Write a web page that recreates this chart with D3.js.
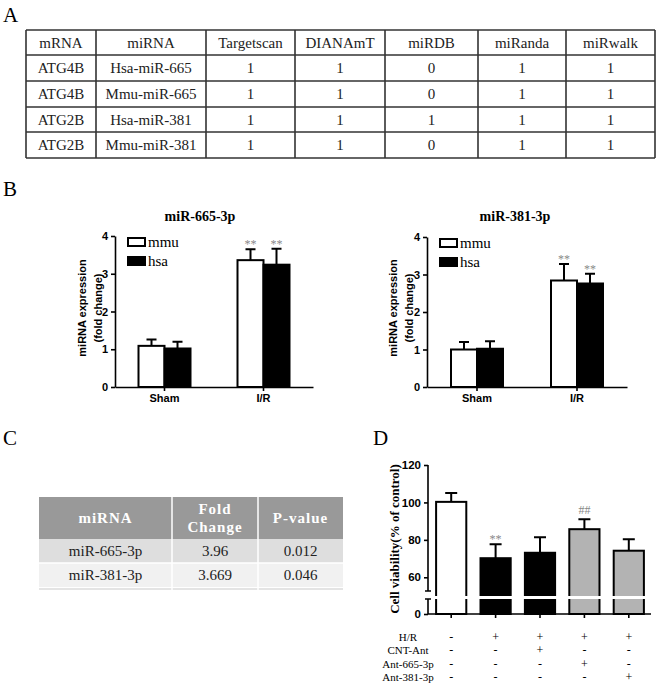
<!DOCTYPE html>
<html>
<head>
<meta charset="utf-8">
<script src="https://cdn.jsdelivr.net/npm/d3@7"></script>
<style>
  body { margin: 0; background: #fff; }
  svg { display: block; }
</style>
</head>
<body>
<script>
// ---- data ----
var tableAHeader = ["mRNA", "miRNA", "Targetscan", "DIANAmT", "miRDB", "miRanda", "miRwalk"];
var tableAMrna  = ["ATG4B", "ATG4B", "ATG2B", "ATG2B"];
var tableAMirna = ["Hsa-miR-665", "Mmu-miR-665", "Hsa-miR-381", "Mmu-miR-381"];
var tableAHits  = [[1, 1, 0, 1, 1], [1, 1, 0, 1, 1], [1, 1, 1, 1, 1], [1, 1, 0, 1, 1]];

var groupsB = ["Sham", "I/R"];
var seriesB = ["mmu", "hsa"];
var m665Mmu = [1.09, 3.36], m665MmuErr = [0.17, 0.29];
var m665Hsa = [1.02, 3.24], m665HsaErr = [0.18, 0.42];
var m381Mmu = [1.00, 2.84], m381MmuErr = [0.20, 0.44];
var m381Hsa = [1.02, 2.76], m381HsaErr = [0.20, 0.26];
var starsB = ["", "**"];
var ticksB = [0, 1, 2, 3, 4];

var tableCHeader = ["miRNA", "Fold\nChange", "P-value"];
var tableCMirna = ["miR-665-3p", "miR-381-3p"];
var tableCFold  = ["3.96", "3.669"];
var tableCP     = ["0.012", "0.046"];

var groupsD = ["ctrl", "hr", "cnt", "a665", "a381"];
var viability = [100.3, 70.2, 73.1, 85.7, 74.2];
var viabilityErr = [4.7, 7.4, 8.3, 5.3, 6.1];
var marksD = ["", "**", "", "##", ""];
var fillD = ["white", "black", "black", "#b3b3b3", "#b3b3b3"];
var ticksD = [0, 60, 80, 100, 120];
var treatNames = ["H/R", "CNT-Ant", "Ant-665-3p", "Ant-381-3p"];
var treatSigns = [
  ["-", "+", "+", "+", "+"],
  ["-", "-", "+", "-", "-"],
  ["-", "-", "-", "+", "-"],
  ["-", "-", "-", "-", "+"]
];

var serif = "'Liberation Serif', 'Times New Roman', serif";
var sans = "'Liberation Sans', Arial, sans-serif";

var svg = d3.select("body").append("svg")
    .attr("width", 660)
    .attr("height", 685);

// panel letters
[["A", 3, 22], ["B", 3, 196], ["C", 3, 445], ["D", 373, 445]].forEach(function(p) {
  svg.append("text").text(p[0])
    .attr("x", p[1]).attr("y", p[2])
    .attr("font-family", serif).attr("font-size", 21);
});

// ---- panel A table ----
var colA = [26, 96, 206, 295, 385, 478, 566, 655];
var rowA = [30, 55, 81, 107, 132, 158];
var tA = svg.append("g");
var rowsA = [tableAHeader].concat(tableAMrna.map(function(m, i) {
  return [m, tableAMirna[i]].concat(tableAHits[i].map(String));
}));
rowsA.forEach(function(r, ri) {
  r.forEach(function(c, ci) {
    tA.append("text").text(c)
      .attr("x", (colA[ci] + colA[ci + 1]) / 2)
      .attr("y", (rowA[ri] + rowA[ri + 1]) / 2 + 5)
      .attr("text-anchor", "middle")
      .attr("font-family", serif).attr("font-size", 15)
      .attr("fill", "#222");
  });
});
colA.forEach(function(x) {
  tA.append("line").attr("x1", x).attr("x2", x).attr("y1", rowA[0]).attr("y2", rowA[5])
    .attr("stroke", "#333").attr("stroke-width", 1.6);
});
rowA.forEach(function(y) {
  tA.append("line").attr("x1", colA[0]).attr("x2", colA[7]).attr("y1", y).attr("y2", y)
    .attr("stroke", "#333").attr("stroke-width", 1.6);
});

// ---- panel B bar charts ----
function chartB(opt) {
  var g = svg.append("g");
  var x0 = d3.scaleBand().domain(groupsB).range([opt.left, opt.right]);
  var x1 = d3.scaleBand().domain(seriesB).range([-26, 26]);
  var y = d3.scaleLinear().domain([0, 4]).range([opt.bottom, opt.top]);

  var bars = [];
  groupsB.forEach(function(gr, i) {
    seriesB.forEach(function(s) {
      bars.push({g: gr, s: s, v: opt.vals[s][i], e: opt.errs[s][i], star: starsB[i]});
    });
  });
  var cx = function(d) { return x0(d.g) + x0.bandwidth() / 2 + x1(d.s); };

  // error bars
  g.selectAll(".err").data(bars).join("path")
    .attr("d", function(d) {
      var m = cx(d) + x1.bandwidth() / 2, t = y(d.v + d.e);
      return "M" + m + "," + y(d.v) + "V" + t + "M" + (m - 5) + "," + t + "H" + (m + 5);
    })
    .attr("stroke", "black").attr("stroke-width", 2).attr("fill", "none");

  g.selectAll(".bar").data(bars).join("rect")
    .attr("x", cx)
    .attr("y", function(d) { return y(d.v); })
    .attr("width", x1.bandwidth())
    .attr("height", function(d) { return y(0) - y(d.v); })
    .attr("fill", function(d) { return d.s == "mmu" ? "white" : "black"; })
    .attr("stroke", "black").attr("stroke-width", 2);

  g.selectAll(".star").data(bars.filter(function(d) { return d.star; })).join("text")
    .text(function(d) { return d.star; })
    .attr("x", function(d) { return cx(d) + x1.bandwidth() / 2; })
    .attr("y", function(d) { return y(d.v + d.e) - 1; })
    .attr("text-anchor", "middle")
    .attr("font-family", serif).attr("font-size", 12).attr("fill", "#888");

  var yAx = g.append("g").attr("transform", "translate(" + opt.left + ",0)")
    .call(d3.axisLeft(y).tickValues(ticksB).tickFormat(d3.format("d"))
      .tickSize(4).tickSizeOuter(0).tickPadding(3));
  var xAx = g.append("g").attr("transform", "translate(0," + opt.bottom + ")")
    .call(d3.axisBottom(x0).tickSize(4).tickSizeOuter(0).tickPadding(3));
  [yAx, xAx].forEach(function(a) {
    a.selectAll("path, line").attr("stroke", "black").attr("stroke-width", 1.6);
    a.selectAll("text").attr("font-family", sans).attr("font-weight", "bold")
      .attr("font-size", 11).attr("fill", "black");
  });

  g.append("text").text(opt.title)
    .attr("x", opt.titleX).attr("y", 221)
    .attr("text-anchor", "middle")
    .attr("font-family", serif).attr("font-weight", "bold").attr("font-size", 14);

  ["miRNA expression", "(fold change)"].forEach(function(t, i) {
    g.append("text").text(t)
      .attr("transform", "translate(" + (opt.labelX + i * 16) + ",308) rotate(-90)")
      .attr("text-anchor", "middle")
      .attr("font-family", sans).attr("font-weight", "bold").attr("font-size", 11);
  });

  // legend
  seriesB.forEach(function(s, i) {
    var ly = opt.top + 2 + i * 19;
    g.append("rect").attr("x", opt.left + 13).attr("y", ly)
      .attr("width", 17).attr("height", 8)
      .attr("fill", s == "mmu" ? "white" : "black")
      .attr("stroke", "black").attr("stroke-width", 2);
    g.append("text").text(s)
      .attr("x", opt.left + 33).attr("y", ly + 9)
      .attr("font-family", serif).attr("font-size", 15);
  });
}

chartB({left: 115, right: 313, top: 236, bottom: 387, titleX: 200, labelX: 86,
  title: "miR-665-3p",
  vals: {mmu: m665Mmu, hsa: m665Hsa}, errs: {mmu: m665MmuErr, hsa: m665HsaErr}});
chartB({left: 427, right: 627, top: 237, bottom: 387, titleX: 515, labelX: 397,
  title: "miR-381-3p",
  vals: {mmu: m381Mmu, hsa: m381Hsa}, errs: {mmu: m381MmuErr, hsa: m381HsaErr}});

// ---- panel C table ----
var colC = [39, 172, 258, 343];
var rowC = [497, 539, 563, 587];
var tC = svg.append("g");
tC.append("rect").attr("x", colC[0]).attr("y", rowC[0])
  .attr("width", colC[3] - colC[0]).attr("height", rowC[1] - rowC[0]).attr("fill", "#999");
tC.append("rect").attr("x", colC[0]).attr("y", rowC[1])
  .attr("width", colC[3] - colC[0]).attr("height", rowC[2] - rowC[1]).attr("fill", "#dedede");
tC.append("rect").attr("x", colC[0]).attr("y", rowC[2])
  .attr("width", colC[3] - colC[0]).attr("height", rowC[3] - rowC[2]).attr("fill", "#f1f1f1");
tC.append("rect").attr("x", colC[0]).attr("y", rowC[3] + 1)
  .attr("width", colC[3] - colC[0]).attr("height", 2).attr("fill", "#e4e4e4");
tC.append("line").attr("x1", colC[0]).attr("x2", colC[3]).attr("y1", rowC[2]).attr("y2", rowC[2])
  .attr("stroke", "white").attr("stroke-width", 1.5);
[colC[1], colC[2]].forEach(function(x) {
  tC.append("line").attr("x1", x).attr("x2", x).attr("y1", rowC[0]).attr("y2", rowC[3] + 3)
    .attr("stroke", "white").attr("stroke-width", 1.5);
});
tableCHeader.forEach(function(h, i) {
  var lines = h.split("\n");
  lines.forEach(function(l, j) {
    tC.append("text").text(l)
      .attr("x", (colC[i] + colC[i + 1]) / 2)
      .attr("y", (rowC[0] + rowC[1]) / 2 + 5 + (j - (lines.length - 1) / 2) * 18)
      .attr("text-anchor", "middle")
      .attr("font-family", serif).attr("font-weight", "bold").attr("font-size", 15)
      .attr("letter-spacing", 1).attr("fill", "white");
  });
});
tableCMirna.forEach(function(m, r) {
  [m, tableCFold[r], tableCP[r]].forEach(function(c, i) {
    tC.append("text").text(c)
      .attr("x", (colC[i] + colC[i + 1]) / 2)
      .attr("y", (rowC[r + 1] + rowC[r + 2]) / 2 + 5)
      .attr("text-anchor", "middle")
      .attr("font-family", serif).attr("font-size", 15).attr("fill", "#222");
  });
});

// ---- panel D bar chart with broken axis ----
var gD = svg.append("g");
var xD = d3.scaleBand().domain(groupsD).range([429, 651]).paddingInner(0.32).paddingOuter(0.16);
var yD = d3.scaleLinear().domain([0, 10, 50, 120]).range([614, 599, 596, 465]);

gD.selectAll(".err").data(groupsD).join("path")
  .attr("d", function(d, i) {
    var m = xD(d) + xD.bandwidth() / 2, t = yD(viability[i] + viabilityErr[i]);
    return "M" + m + "," + yD(viability[i]) + "V" + t + "M" + (m - 6) + "," + t + "H" + (m + 6);
  })
  .attr("stroke", "black").attr("stroke-width", 2).attr("fill", "none");

gD.selectAll(".bar").data(groupsD).join("rect")
  .attr("x", function(d) { return xD(d); })
  .attr("y", function(d, i) { return yD(viability[i]); })
  .attr("width", xD.bandwidth())
  .attr("height", function(d, i) { return yD(0) - yD(viability[i]); })
  .attr("fill", function(d, i) { return fillD[i]; })
  .attr("stroke", "black").attr("stroke-width", 2);

// break gap through the bars
gD.append("rect").attr("x", 429).attr("y", yD(50)).attr("width", 222)
  .attr("height", yD(10) - yD(50)).attr("fill", "white");

gD.selectAll(".mark").data(groupsD).join("text")
  .text(function(d, i) { return marksD[i]; })
  .attr("x", function(d) { return xD(d) + xD.bandwidth() / 2; })
  .attr("y", function(d, i) { return yD(viability[i] + viabilityErr[i]) - (marksD[i] == "##" ? 5 : 1); })
  .attr("text-anchor", "middle")
  .attr("font-family", serif).attr("font-size", 12).attr("fill", "#888");

var yAxD = gD.append("g").attr("transform", "translate(428,0)")
  .call(d3.axisLeft(yD).tickValues(ticksD).tickSize(4).tickPadding(3));
yAxD.select(".domain").remove();
yAxD.selectAll("line").attr("stroke", "black").attr("stroke-width", 1.6);
yAxD.selectAll("text").attr("font-family", sans).attr("font-weight", "bold")
  .attr("font-size", 11.5).attr("fill", "black");
// axis segments with break caps
gD.append("path")
  .attr("d", "M428," + yD(120) + "V591M425,591H431M425,599H431M428,599V" + yD(0))
  .attr("stroke", "black").attr("stroke-width", 1.6).attr("fill", "none");

var xAxD = gD.append("g").attr("transform", "translate(0,614)")
  .call(d3.axisBottom(xD).tickSize(4).tickSizeOuter(0).tickFormat(""));
xAxD.selectAll("path, line").attr("stroke", "black").attr("stroke-width", 1.6);
xAxD.select(".domain").attr("d", "M428,0H651");

gD.append("text").text("Cell viability(% of control)")
  .attr("transform", "translate(399,539) rotate(-90)")
  .attr("text-anchor", "middle")
  .attr("font-family", serif).attr("font-weight", "bold").attr("font-size", 13);

// treatment table below D
treatNames.forEach(function(n, r) {
  var ty = 641 + r * 13.3;
  gD.append("text").text(n)
    .attr("x", 408).attr("y", ty)
    .attr("text-anchor", "middle")
    .attr("font-family", serif).attr("font-size", 11);
  gD.selectAll(".sign" + r).data(groupsD).join("text")
    .text(function(d, i) { return treatSigns[r][i]; })
    .attr("x", function(d) { return xD(d) + xD.bandwidth() / 2; })
    .attr("y", ty)
    .attr("text-anchor", "middle")
    .attr("font-family", serif).attr("font-size", 12);
});
</script>
</body>
</html>
